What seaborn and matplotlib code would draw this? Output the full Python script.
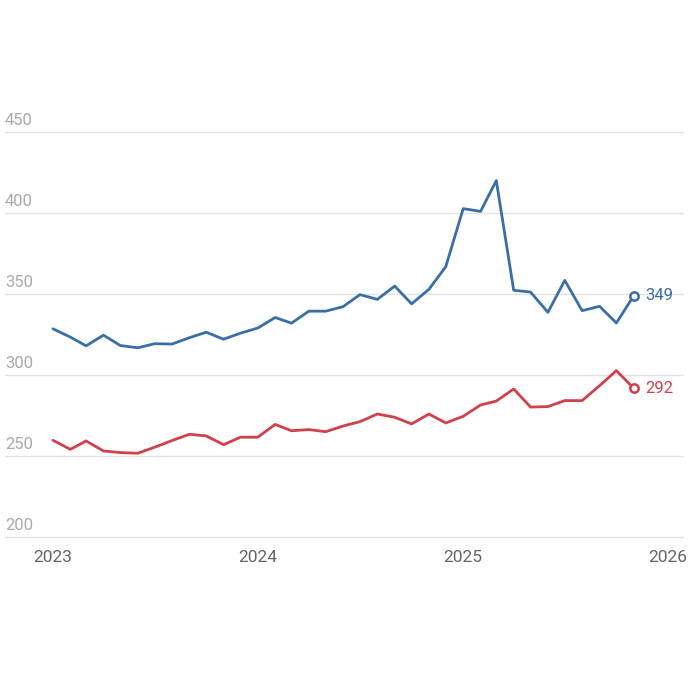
import pandas as pd
import numpy as np
import matplotlib
matplotlib.use("Agg")
import matplotlib.pyplot as plt
import matplotlib.transforms as mtransforms
import seaborn as sns

# monthly values, Jan 2023 .. Nov 2025
months = pd.date_range("2023-01-01", periods=35, freq="MS")
blue_vals = [328.5, 323.4, 318.0, 324.6, 318.2, 316.8, 319.3, 319.1, 323.0, 326.4, 322.1, 325.8,
             329.0, 335.5, 332.0, 339.4, 339.4, 342.2, 349.6, 346.7, 354.9, 343.9, 352.9, 366.9,
             402.7, 401.0, 420.0, 352.3, 351.2, 338.7, 358.4, 339.7, 342.4, 332.1, 349.0]
red_vals = [259.7, 254.1, 259.3, 253.1, 252.1, 251.7, 255.4, 259.5, 263.4, 262.4, 257.0, 261.6,
            261.6, 269.5, 265.6, 266.3, 265.0, 268.5, 271.2, 275.9, 273.9, 269.8, 275.9, 270.4,
            274.5, 281.5, 283.9, 291.4, 280.2, 280.5, 284.2, 284.2, 293.4, 302.7, 291.8]
series_names = ["blue", "red"]
colors = {"blue": "#3a6fa5", "red": "#d1404c"}
y_ticks = [200, 250, 300, 350, 400, 450]
x_years = [2023, 2024, 2025, 2026]

df = pd.DataFrame({
    "date": list(months) * 2,
    "value": blue_vals + red_vals,
    "series": ["blue"] * len(months) + ["red"] * len(months),
})

sns.set_theme(style="white")
plt.rcParams["font.family"] = ["Roboto", "DejaVu Sans"]

fig = plt.figure(figsize=(6.88, 6.88), dpi=100)
ax = fig.add_axes([5 / 688, (688 - 537) / 688, 678 / 688, (537 - 132) / 688])

sns.lineplot(data=df, x="date", y="value", hue="series", palette=colors,
             linewidth=2.0, legend=False, ax=ax)

# end markers + value labels
for name in series_names:
    sub = df[df["series"] == name]
    last_x = sub["date"].iloc[-1]
    last_y = sub["value"].iloc[-1]
    ax.plot(last_x, last_y, marker="o", markersize=6, markerfacecolor="white",
            markeredgecolor=colors[name], markeredgewidth=1.8, zorder=5)
    ax.annotate(f"{last_y:.0f}", (last_x, last_y), xytext=(8, 0), textcoords="offset points",
                va="center", ha="left", fontsize=12, color=colors[name])

ax.set_ylim(200, 450)
ax.set_xlim(pd.Timestamp("2023-01-01") - pd.Timedelta(days=85.5),
            pd.Timestamp("2026-01-01") + pd.Timedelta(days=26.7))

# grid + y labels sitting on top of the lines
ax.set_yticks(y_ticks)
ax.set_yticklabels([])
ax.tick_params(axis="y", length=0)
for v in y_ticks:
    ax.axhline(v, color="#e2e2e2", linewidth=1.0, zorder=0, clip_on=False)
trans = mtransforms.blended_transform_factory(ax.transAxes, ax.transData)
for v in y_ticks:
    ax.annotate(str(v), (0.0, v), xycoords=trans, xytext=(0, 3), textcoords="offset points",
                ha="left", va="bottom", fontsize=12, color="#aaaaaa")

ax.set_xticks([pd.Timestamp(f"{y}-01-01") for y in x_years])
ax.set_xticklabels([str(y) for y in x_years], fontsize=12.5, color="#666666")
ax.tick_params(axis="x", length=0, pad=9)

ax.set_xlabel("")
ax.set_ylabel("")
for s in ax.spines.values():
    s.set_visible(False)

fig.savefig("out.png", dpi=100, facecolor="white")
